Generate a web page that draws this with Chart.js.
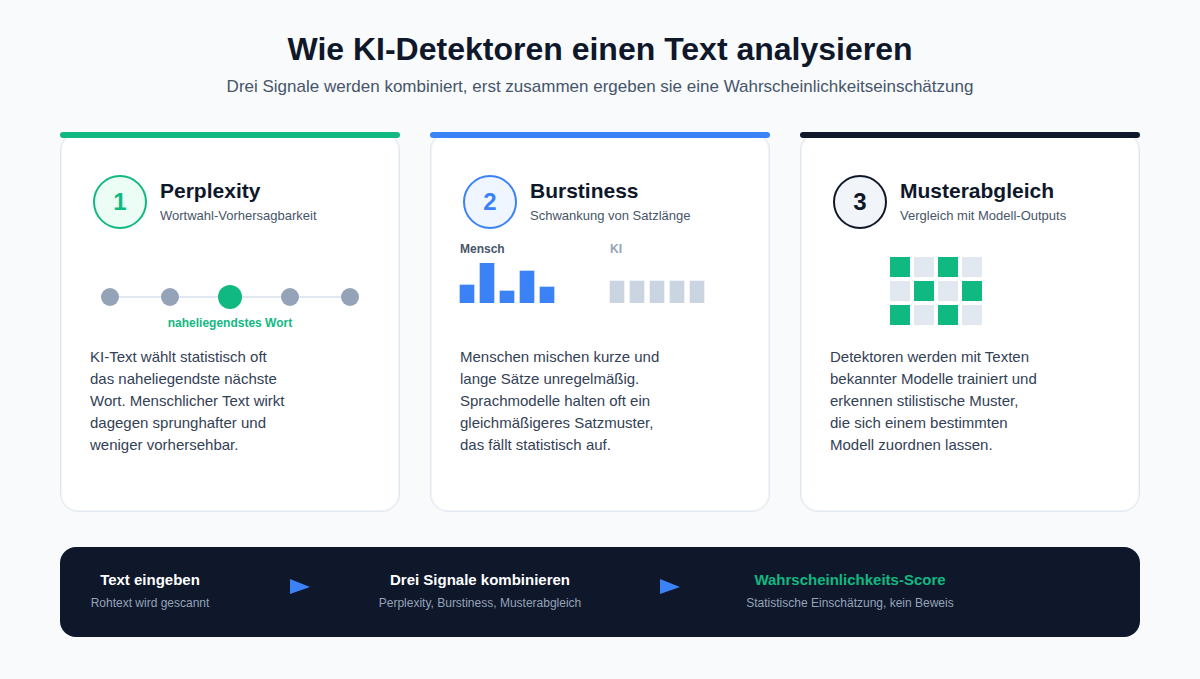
<!DOCTYPE html>
<html lang="de">
<head>
<meta charset="utf-8">
<title>Wie KI-Detektoren einen Text analysieren</title>
<script src="https://cdn.jsdelivr.net/npm/chart.js@4/dist/chart.umd.min.js"></script>
<style>
html,body{margin:0;padding:0;background:#f8fafc;width:1200px;height:679px;overflow:hidden;font-family:"Liberation Sans",Arial,sans-serif;}
#stage{position:relative;width:1200px;height:679px;}
#stage>*{position:absolute;}
.t{white-space:nowrap;line-height:1;}
.c{transform:translateX(-50%);text-align:center;}
.card{left:0;top:132px;width:338px;height:378px;background:#fff;border:1px solid #e2e8f0;box-shadow:inset 0 0 0 1px #f0f3f7;border-radius:18px;}
.bar{top:132px;width:340px;height:6px;border-radius:3px;}
.circle{top:175px;width:50px;height:50px;border:2px solid;border-radius:50%;text-align:center;line-height:50px;font-size:24px;font-weight:700;}
.h{top:180px;font-size:21px;font-weight:700;color:#0f172a;}
.s{top:209px;font-size:13px;color:#475569;}
.b{top:346px;font-size:15px;line-height:22px;color:#334155;white-space:nowrap;}
.mini{top:243px;font-size:12px;font-weight:700;}
canvas{position:absolute;display:block;}
.ft{top:572px;font-size:15px;font-weight:700;color:#fff;}
.fs{top:597px;font-size:12px;color:#94a3b8;}
</style>
</head>
<body>
<div id="stage">
  <div class="t c" style="left:600px;top:33px;font-size:32px;font-weight:700;color:#0f172a">Wie KI-Detektoren einen Text analysieren</div>
  <div class="t c" style="left:600px;top:78px;font-size:17px;color:#475569">Drei Signale werden kombiniert, erst zusammen ergeben sie eine Wahrscheinlichkeitseinschätzung</div>

  <div class="card" style="left:60px"></div>
  <div class="card" style="left:430px"></div>
  <div class="card" style="left:800px"></div>
  <div class="bar" style="left:60px;background:#10b981"></div>
  <div class="bar" style="left:430px;background:#3b82f6"></div>
  <div class="bar" style="left:800px;background:#0f172a"></div>

  <div class="circle" style="left:93px;border-color:#10b981;background:#ecfdf5;color:#10b981">1</div>
  <div class="t h" style="left:160px">Perplexity</div>
  <div class="t s" style="left:160px">Wortwahl-Vorhersagbarkeit</div>
  <div class="circle" style="left:463px;border-color:#3b82f6;background:#eff6ff;color:#3b82f6">2</div>
  <div class="t h" style="left:530px">Burstiness</div>
  <div class="t s" style="left:530px">Schwankung von Satzlänge</div>
  <div class="circle" style="left:833px;border-color:#0f172a;background:#f1f5f9;color:#0f172a">3</div>
  <div class="t h" style="left:900px">Musterabgleich</div>
  <div class="t s" style="left:900px">Vergleich mit Modell-Outputs</div>

  <canvas id="words" style="left:90px;top:282px;width:280px;height:30px" width="280" height="30"></canvas>
  <div class="t c" style="left:230px;top:317px;font-size:12px;font-weight:700;color:#10b981">naheliegendstes Wort</div>

  <div class="t mini" style="left:460px;color:#475569">Mensch</div>
  <div class="t mini" style="left:610px;color:#94a3b8">KI</div>
  <canvas id="human" style="left:457px;top:263px;width:100px;height:40px" width="100" height="40"></canvas>
  <canvas id="ai" style="left:607px;top:263px;width:100px;height:40px" width="100" height="40"></canvas>

  <canvas id="grid" style="left:888px;top:255px;width:96px;height:72px" width="96" height="72"></canvas>

  <div class="b" style="left:90px">KI-Text wählt statistisch oft<br>das naheliegendste nächste<br>Wort. Menschlicher Text wirkt<br>dagegen sprunghafter und<br>weniger vorhersehbar.</div>
  <div class="b" style="left:460px">Menschen mischen kurze und<br>lange Sätze unregelmäßig.<br>Sprachmodelle halten oft ein<br>gleichmäßigeres Satzmuster,<br>das fällt statistisch auf.</div>
  <div class="b" style="left:830px">Detektoren werden mit Texten<br>bekannter Modelle trainiert und<br>erkennen stilistische Muster,<br>die sich einem bestimmten<br>Modell zuordnen lassen.</div>

  <div style="left:60px;top:547px;width:1080px;height:90px;background:#0f172a;border-radius:16px"></div>
  <div class="t c ft" style="left:150px">Text eingeben</div>
  <div class="t c fs" style="left:150px">Rohtext wird gescannt</div>
  <svg style="left:290px;top:579px" width="20" height="16"><polygon points="0,0 20,8 0,15" fill="#3b82f6"/></svg>
  <div class="t c ft" style="left:480px">Drei Signale kombinieren</div>
  <div class="t c fs" style="left:480px">Perplexity, Burstiness, Musterabgleich</div>
  <svg style="left:660px;top:579px" width="20" height="16"><polygon points="0,0 20,8 0,15" fill="#3b82f6"/></svg>
  <div class="t c ft" style="left:850px;color:#10b981">Wahrscheinlichkeits-Score</div>
  <div class="t c fs" style="left:850px">Statistische Einschätzung, kein Beweis</div>
</div>

<script>
const wordLabels = ["Wort 1", "Wort 2", "Wort 3", "Wort 4", "Wort 5"];
const wordValues = [1, 1, 1, 1, 1];
const likeliestWord = 2;

const sentenceLabels = ["S1", "S2", "S3", "S4", "S5"];
const humanLengths = [18, 40, 12, 32, 16];
const aiLengths = [22, 22, 22, 22, 22];
const lengthMax = 40;

const gridColumns = ["A", "B", "C", "D"];
const gridRows = ["R1", "R2", "R3"];
const gridMatches = [
  [1, 0, 1, 0],
  [0, 1, 0, 1],
  [1, 0, 1, 0]
];

const GREEN = "#10b981", BLUE = "#3b82f6", SLATE = "#94a3b8", LINE = "#e2e8f0", KI_BAR = "#cbd5e1";

Chart.defaults.animation = false;
Chart.defaults.responsive = false;
Chart.defaults.devicePixelRatio = 1;
Chart.defaults.plugins.legend.display = false;
Chart.defaults.plugins.tooltip.enabled = false;
Chart.defaults.events = [];

new Chart(document.getElementById("words"), {
  type: "line",
  data: {
    labels: wordLabels,
    datasets: [{
      data: wordValues,
      borderColor: LINE,
      borderWidth: 2,
      tension: 0,
      clip: false,
      pointRadius: wordLabels.map((_, i) => i === likeliestWord ? 12 : 9),
      pointBorderWidth: 0,
      pointBackgroundColor: wordLabels.map((_, i) => i === likeliestWord ? GREEN : SLATE)
    }]
  },
  options: {
    layout: { autoPadding: false, padding: { left: 20, right: 20, top: 0, bottom: 0 } },
    scales: {
      x: { display: false },
      y: { display: false, min: 0, max: 2 }
    }
  }
});

function lengthChart(id, values, color) {
  new Chart(document.getElementById(id), {
    type: "bar",
    data: {
      labels: sentenceLabels,
      datasets: [{ data: values, backgroundColor: color, barThickness: 14, borderWidth: 0 }]
    },
    options: {
      layout: { autoPadding: false },
      scales: {
        x: { display: false },
        y: { display: false, min: 0, max: lengthMax }
      }
    }
  });
}
lengthChart("human", humanLengths, BLUE);
lengthChart("ai", aiLengths, KI_BAR);

const gridPoints = [];
const gridColors = [];
gridRows.forEach((row, r) => gridColumns.forEach((col, c) => {
  gridPoints.push({ x: col, y: row });
  gridColors.push(gridMatches[r][c] ? GREEN : LINE);
}));

new Chart(document.getElementById("grid"), {
  type: "line",
  data: {
    datasets: [{
      data: gridPoints,
      showLine: false,
      clip: false,
      pointStyle: "rect",
      pointRadius: 10 * Math.SQRT2,
      pointBorderWidth: 0,
      pointBackgroundColor: gridColors
    }]
  },
  options: {
    layout: { autoPadding: false },
    scales: {
      x: { display: false, type: "category", labels: gridColumns, offset: true },
      y: { display: false, type: "category", labels: gridRows, offset: true }
    }
  }
});
</script>
</body>
</html>
